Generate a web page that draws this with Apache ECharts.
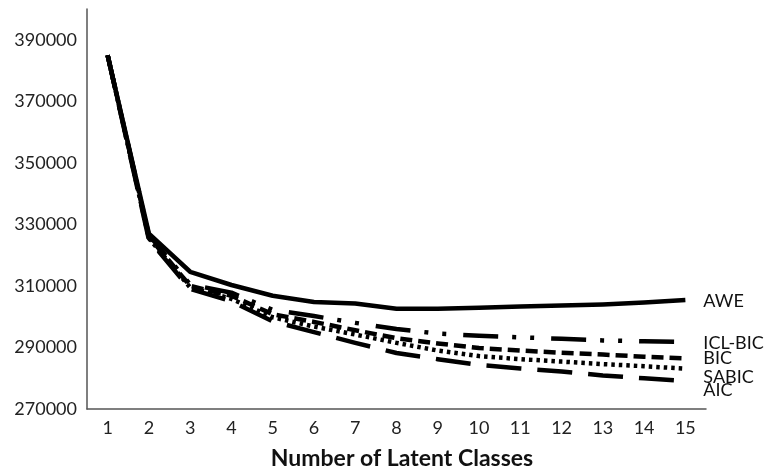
<!DOCTYPE html>
<html>
<head>
<meta charset="utf-8">
<script src="https://cdn.jsdelivr.net/npm/echarts@6/dist/echarts.min.js"></script>
<style>html,body{margin:0;padding:0;background:#fff}#c{width:771px;height:473px}</style>
</head>
<body>
<div id="c"></div>
<script>
var categories = ['1','2','3','4','5','6','7','8','9','10','11','12','13','14','15'];
var AWE    = [385000, 327000, 314600, 310300, 306800, 304800, 304300, 302600, 302600, 302900, 303300, 303600, 304000, 304600, 305400];
var ICLBIC = [385000, 326500, 310500, 307800, 302200, 300200, 298000, 296000, 294500, 293800, 293300, 292800, 292300, 292000, 291800];
var BIC    = [385000, 326000, 310000, 306800, 300800, 298300, 295600, 293000, 291300, 289800, 289000, 288300, 287700, 287000, 286400];
var SABIC  = [385000, 325500, 309500, 305800, 299800, 296800, 294200, 291500, 289000, 287200, 286200, 285400, 284600, 283900, 283100];
var AIC    = [385000, 325000, 309000, 305000, 298500, 295000, 291500, 288200, 286200, 284300, 283200, 282200, 280900, 280000, 279100];
var yTickLabels = [270000, 290000, 310000, 330000, 350000, 370000, 390000];

var FONT = 'Lato';
function mk(name, data, dash, dy) {
  return {
    name: name, type: 'line', data: data, symbol: 'none', smooth: false,
    lineStyle: { color: '#000', width: 4.5, type: dash, cap: 'butt', join: 'round' },
    endLabel: { show: true, formatter: name, color: '#111', fontFamily: FONT, fontSize: 18, distance: 18, offset: [0, dy] }
  };
}
var chart = echarts.init(document.getElementById('c'));
chart.setOption({
  animation: false,
  grid: { left: 87, right: 65, top: 9, bottom: 64, containLabel: false, outerBoundsMode: 'none' },
  xAxis: {
    type: 'category', data: categories, boundaryGap: true,
    axisLine: { lineStyle: { color: '#555', width: 1.5 } },
    axisTick: { show: false },
    axisLabel: { color: '#222', fontFamily: FONT, fontSize: 18, margin: 10 },
    name: 'Number of Latent Classes', nameLocation: 'middle', nameGap: 38,
    nameTextStyle: { color: '#111', fontFamily: FONT, fontSize: 23, fontWeight: 'bold', padding: [0, 0, 0, 11] }
  },
  yAxis: {
    type: 'value', min: 270000, max: 400000, interval: 10000,
    axisLine: { show: true, lineStyle: { color: '#555', width: 1.5 } },
    axisTick: { show: false },
    splitLine: { show: false },
    axisLabel: {
      color: '#222', fontFamily: FONT, fontSize: 18, margin: 10,
      formatter: function (v) { return yTickLabels.indexOf(v) >= 0 ? String(v) : ''; }
    }
  },
  series: [
    mk('AWE', AWE, 'solid', 1.5),
    mk('ICL-BIC', ICLBIC, [35, 14, 4, 14, 4, 17], 1),
    mk('BIC', BIC, [12, 6], 0),
    mk('SABIC', SABIC, [3.5, 4], 8),
    mk('AIC', AIC, [35, 16], 9)
  ]
});
</script>
</body>
</html>
